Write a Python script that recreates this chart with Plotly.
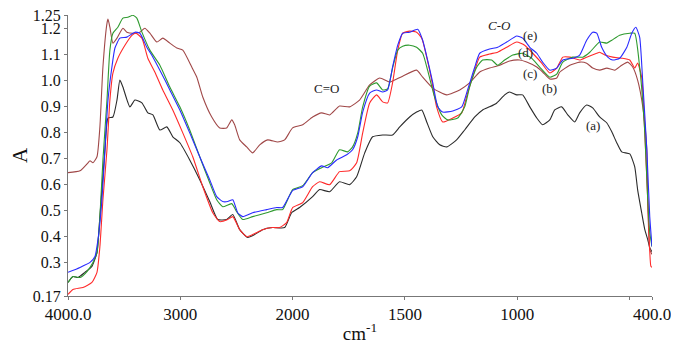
import plotly.graph_objects as go

# ---- data (wavenumber cm-1, absorbance A) ----
wn_a = [4000, 3956, 3911, 3849, 3787, 3742, 3716, 3671, 3644, 3600, 3564, 3538, 3511, 3449, 3404, 3342, 3289, 3244,
        3182, 3120, 3067, 3004, 2916, 2827, 2738, 2667, 2587, 2533, 2471, 2400, 2338, 2267, 2178, 2071, 2009,
        1969, 1911, 1880, 1835, 1791, 1746, 1715, 1679, 1644, 1599, 1555, 1523, 1479, 1448, 1425, 1403, 1376,
        1345, 1314, 1270, 1234, 1189, 1154, 1123, 1091, 1056, 1034, 1002, 976, 944, 913, 887, 855, 833, 802,
        775, 744, 722, 691, 664, 633, 601, 579, 557, 535, 499, 477, 464, 446, 432, 419, 410, 400]
A_a = [0.222, 0.245, 0.241, 0.261, 0.284, 0.337, 0.475, 0.732, 0.854, 0.858, 0.923, 1.0, 0.973, 0.897, 0.923, 0.912,
       0.874, 0.866, 0.808, 0.820, 0.782, 0.759, 0.693, 0.617, 0.533, 0.464, 0.464, 0.483, 0.425, 0.395, 0.406,
       0.425, 0.433, 0.433, 0.490, 0.510, 0.552, 0.579, 0.571, 0.609, 0.598, 0.628, 0.720, 0.782, 0.789, 0.789,
       0.820, 0.858, 0.877, 0.885, 0.839, 0.782, 0.751, 0.743, 0.770, 0.808, 0.858, 0.885, 0.897, 0.912, 0.943,
       0.954, 0.943, 0.943, 0.897, 0.854, 0.828, 0.847, 0.885, 0.897, 0.866, 0.839, 0.874, 0.904, 0.893, 0.858,
       0.835, 0.801, 0.759, 0.724, 0.716, 0.667, 0.579, 0.490, 0.425, 0.387, 0.356, 0.34]

wn_b = [4000, 3893, 3822, 3804, 3778, 3742, 3716, 3689, 3653, 3644, 3627, 3600, 3564, 3511, 3476, 3422, 3360, 3316,
        3271, 3209, 3156, 3093, 3031, 2978, 2898, 2853, 2800, 2720, 2649, 2587, 2542, 2516, 2471, 2409, 2356,
        2293, 2222, 2133, 2071, 2000, 1955, 1911, 1871, 1835, 1791, 1746, 1702, 1657, 1612, 1568, 1546, 1510,
        1448, 1421, 1376, 1314, 1256, 1212, 1167, 1123, 1078, 1034, 989, 958, 913, 887, 855, 824, 811, 766, 722,
        691, 664, 633, 601, 566, 535, 508, 486, 464, 441, 423, 419, 410, 400]
A_b = [0.644, 0.651, 0.682, 0.690, 0.682, 0.705, 0.820, 1.050, 1.218, 1.234, 1.203, 1.142, 1.161, 1.199, 1.184,
       1.180, 1.184, 1.199, 1.180, 1.146, 1.161, 1.142, 1.123, 1.115, 1.050, 1.011, 0.935, 0.858, 0.816, 0.816,
       0.847, 0.828, 0.770, 0.743, 0.720, 0.751, 0.770, 0.762, 0.770, 0.816, 0.828, 0.858, 0.874, 0.866, 0.900,
       0.897, 0.923, 0.981, 1.008, 0.992, 1.0, 1.015, 1.038, 1.011, 0.969, 0.943, 0.962, 0.989, 1.031, 1.046,
       1.057, 1.073, 1.077, 1.069, 1.050, 1.031, 1.004, 1.008, 1.03, 1.057, 1.069, 1.065, 1.046, 1.038, 1.046,
       1.038, 1.057, 1.069, 1.050, 1.0, 0.897, 0.732, 0.540, 0.349, 0.33]

wn_c = [4000, 3956, 3867, 3787, 3742, 3716, 3689, 3653, 3627, 3600, 3556, 3493, 3431, 3396, 3342, 3289, 3227, 3156,
        3067, 2978, 2889, 2800, 2711, 2649, 2578, 2533, 2471, 2409, 2356, 2267, 2178, 2116, 2053, 2000, 1955,
        1911, 1880, 1835, 1791, 1746, 1715, 1688, 1657, 1626, 1599, 1577, 1555, 1532, 1510, 1479, 1448, 1425,
        1403, 1381, 1359, 1332, 1287, 1247, 1221, 1189, 1167, 1123, 1087, 1047, 1002, 967, 931, 891, 855, 824,
        797, 766, 722, 691, 646, 633, 610, 575, 535, 499, 477, 464, 446, 432, 419, 405, 400]
A_c = [0.176, 0.195, 0.203, 0.222, 0.261, 0.360, 0.540, 0.732, 0.923, 1.027, 1.084, 1.134, 1.172, 1.180, 1.161,
       1.084, 1.031, 0.962, 0.885, 0.797, 0.705, 0.590, 0.490, 0.456, 0.464, 0.475, 0.425, 0.398, 0.406, 0.425,
       0.433, 0.433, 0.452, 0.510, 0.529, 0.590, 0.609, 0.598, 0.648, 0.651, 0.682, 0.797, 0.912, 0.943, 0.916,
       0.912, 0.989, 1.115, 1.180, 1.188, 1.184, 1.161, 1.088, 1.0, 0.897, 0.839, 0.854, 0.874, 0.950, 1.038,
       1.088, 1.100, 1.107, 1.126, 1.146, 1.134, 1.103, 1.065, 1.027, 1.046, 1.088, 1.088, 1.077, 1.088, 1.103,
       1.107, 1.096, 1.088, 1.084, 1.077, 1.046, 1.065, 1.011, 0.797, 0.540, 0.284, 0.28]

wn_d = [4000, 3956, 3893, 3831, 3778, 3742, 3716, 3689, 3653, 3627, 3600, 3556, 3511, 3467, 3422, 3387, 3342, 3271,
        3182, 3093, 3004, 2916, 2827, 2738, 2676, 2622, 2542, 2498, 2444, 2356, 2231, 2142, 2089, 2000, 1955,
        1911, 1871, 1826, 1791, 1755, 1733, 1710, 1688, 1657, 1626, 1599, 1577, 1555, 1532, 1510, 1479, 1448,
        1421, 1399, 1368, 1336, 1310, 1265, 1234, 1212, 1180, 1154, 1114, 1087, 1056, 1020, 976, 936, 900, 855,
        824, 797, 753, 708, 677, 633, 601, 579, 544, 499, 477, 455, 432, 419, 410, 400]
A_d = [0.222, 0.245, 0.241, 0.264, 0.299, 0.337, 0.475, 0.693, 0.923, 1.115, 1.180, 1.203, 1.238, 1.241, 1.249,
       1.238, 1.184, 1.115, 1.057, 0.973, 0.897, 0.808, 0.705, 0.605, 0.540, 0.513, 0.525, 0.494, 0.464, 0.475,
       0.490, 0.502, 0.502, 0.579, 0.594, 0.644, 0.663, 0.682, 0.732, 0.724, 0.743, 0.797, 0.897, 0.977, 0.989,
       0.962, 0.966, 1.046, 1.115, 1.130, 1.134, 1.126, 1.103, 1.038, 0.935, 0.866, 0.847, 0.854, 0.897, 0.973,
       1.050, 1.077, 1.077, 1.057, 1.077, 1.096, 1.103, 1.084, 1.050, 1.011, 1.023, 1.069, 1.088, 1.088, 1.107,
       1.146, 1.142, 1.153, 1.172, 1.180, 1.180, 1.050, 0.797, 0.540, 0.414, 0.36]

wn_e = [4000, 3893, 3804, 3760, 3733, 3698, 3671, 3644, 3609, 3582, 3538, 3476, 3404, 3360, 3298, 3244, 3182, 3093,
        3004, 2916, 2827, 2738, 2676, 2622, 2578, 2533, 2489, 2444, 2356, 2231, 2142, 2089, 2000, 1955, 1911,
        1871, 1844, 1804, 1759, 1733, 1710, 1688, 1657, 1626, 1599, 1577, 1555, 1532, 1510, 1479, 1443, 1421,
        1399, 1376, 1354, 1332, 1287, 1247, 1221, 1189, 1167, 1123, 1087, 1047, 1002, 976, 944, 913, 887, 855,
        824, 797, 753, 722, 691, 664, 646, 624, 597, 575, 544, 512, 490, 472, 455, 441, 423, 410, 400]
A_e = [0.261, 0.280, 0.299, 0.322, 0.387, 0.540, 0.732, 0.923, 1.050, 1.123, 1.161, 1.165, 1.184, 1.180, 1.126,
       1.088, 1.038, 0.962, 0.885, 0.797, 0.705, 0.617, 0.552, 0.533, 0.533, 0.540, 0.490, 0.475, 0.490, 0.502,
       0.510, 0.510, 0.575, 0.590, 0.644, 0.670, 0.663, 0.693, 0.713, 0.732, 0.782, 0.877, 0.950, 0.962, 0.954,
       0.962, 1.050, 1.134, 1.180, 1.184, 1.195, 1.153, 1.077, 0.989, 0.897, 0.877, 0.881, 0.897, 0.962, 1.050,
       1.103, 1.119, 1.126, 1.146, 1.169, 1.161, 1.126, 1.103, 1.069, 1.038, 1.046, 1.077, 1.084, 1.096, 1.153,
       1.184, 1.180, 1.126, 1.088, 1.077, 1.084, 1.126, 1.180, 1.203, 1.165, 0.989, 0.732, 0.475, 0.36]

x_tick_wn = [4000, 3000, 2000, 1500, 1000, 500, 400]
x_tick_labels = ["4000.0", "3000", "2000", "1500", "1000", "", "400.0"]
y_tick_vals = [0.17, 0.3, 0.4, 0.5, 0.6, 0.7, 0.8, 0.9, 1.0, 1.1, 1.2, 1.25]
y_tick_labels = ["0.17", "0.3", "0.4", "0.5", "0.6", "0.7", "0.8", "0.9", "1.0", "1.1", "1.2", "1.25"]

# labels: (text, wavenumber, A)
label_text = ["C=O", "<i>C-O</i>", "(e)", "(d)", "(c)", "(b)", "(a)"]
label_wn = [1849, 1078, 944, 962, 944, 855, 664]
label_A = [0.966, 1.211, 1.172, 1.107, 1.027, 0.966, 0.824]


# IR-style split scale: 2000-400 cm-1 region expanded 2x
def to_u(w):
    return 4000 - w if w >= 2000 else 2000 + 2 * (2000 - w)


series = [
    (wn_a, A_a, "#2b2b2b", "(a)"),
    (wn_b, A_b, "#a04848", "(b)"),
    (wn_c, A_c, "#ff2a2a", "(c)"),
    (wn_d, A_d, "#2f9a2f", "(d)"),
    (wn_e, A_e, "#2a2aff", "(e)"),
]

fig = go.Figure()
for wn, A, col, name in series:
    fig.add_trace(go.Scatter(x=[to_u(w) for w in wn], y=A, mode="lines", name=name,
                             line=dict(color=col, width=1.1, shape="spline", smoothing=0.5)))

serif = "Liberation Serif"
for t, w, a in zip(label_text, label_wn, label_A):
    fig.add_annotation(x=to_u(w), y=a, text=t, showarrow=False,
                       font=dict(family=serif, size=13, color="#222"))

# page body has an 8px default margin, so the figure is sized to fit inside it
fig.update_layout(
    width=671, height=336,
    margin=dict(l=60, r=27, t=7, b=48),
    paper_bgcolor="white", plot_bgcolor="white",
    showlegend=False,
    font=dict(family=serif, size=16, color="#111"),
)
fig.update_xaxes(
    range=[0, to_u(400)], automargin=False, ticklabeloverflow="allow",
    tickvals=[to_u(w) for w in x_tick_wn], ticktext=x_tick_labels,
    tickfont=dict(family=serif, size=17),
    showgrid=False, zeroline=False,
    showline=True, linecolor="#777", linewidth=1,
    ticks="outside", ticklen=3, tickcolor="#777",
    title=dict(text="cm<sup>-1</sup>", font=dict(family=serif, size=19), standoff=7),
)
fig.update_yaxes(
    range=[0.17, 1.25], automargin=False, ticklabeloverflow="allow",
    tickvals=y_tick_vals, ticktext=y_tick_labels,
    tickfont=dict(family=serif, size=16),
    showgrid=False, zeroline=False,
    showline=True, linecolor="#777", linewidth=1,
    ticks="outside", ticklen=3, tickcolor="#777",
    title=dict(text="A", font=dict(family=serif, size=21), standoff=2),
)

fig.write_html("out.html")
